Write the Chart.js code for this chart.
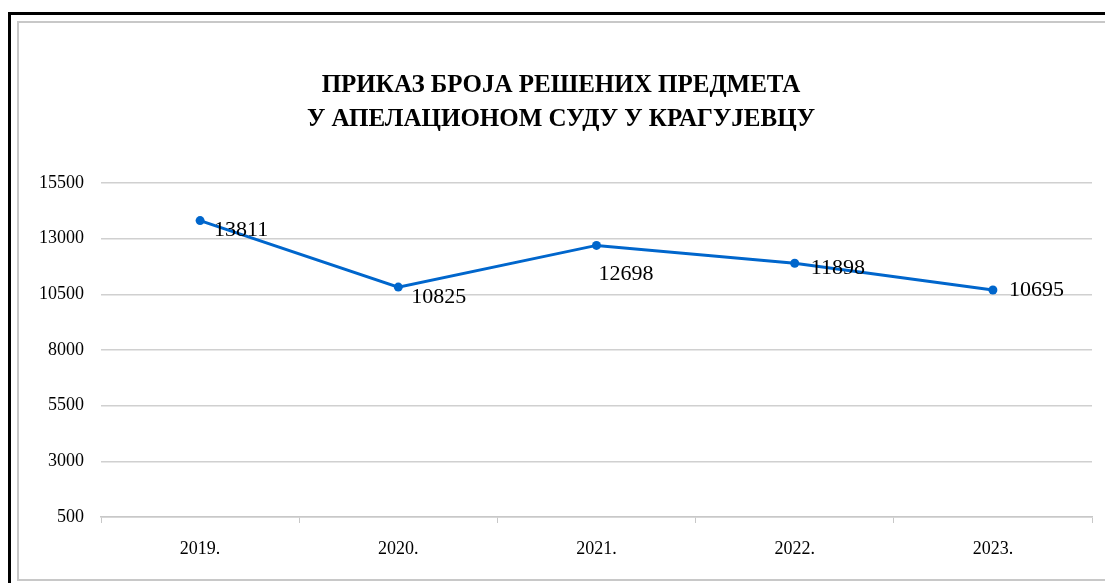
<!DOCTYPE html>
<html lang="sr">
<head>
    <meta charset="UTF-8">
    <script src="https://cdn.jsdelivr.net/npm/chart.js@4.4.0/dist/chart.umd.min.js"></script>
    <title>Решени предмети</title>
    <style>
        html, body { margin: 0; padding: 0; background: #fff; overflow: hidden; }
        .wrap { position: relative; width: 1105px; height: 583px; }
        canvas { position: absolute; left: 0; top: 0; }
        .frame-outer { position: absolute; left: 8px; top: 12px; width: 1200px; height: 700px; border: 3px solid #000; pointer-events: none; }
        .frame-inner { position: absolute; left: 17px; top: 21px; width: 1200px; height: 556px; border: 2px solid #c8c8c8; pointer-events: none; }
    </style>
</head>
<body>
<div class="wrap">
    <canvas id="myChart" width="1105" height="583"></canvas>
    <div class="frame-outer"></div>
    <div class="frame-inner"></div>
</div>

<script>
    // data
    const years = ['2019.', '2020.', '2021.', '2022.', '2023.'];
    const solved = [13811, 10825, 12698, 11898, 10695];
    const titleLines = ['ПРИКАЗ БРОЈА РЕШЕНИХ ПРЕДМЕТА', 'У АПЕЛАЦИОНОМ СУДУ У КРАГУЈЕВЦУ'];
    const yMin = 500, yMax = 15500, yStep = 2500;

    const serif = "'Liberation Serif', 'Times New Roman', serif";

    // value labels next to each point (offsets as placed in the original)
    const labelOffsets = [[14, 10], [13, 10], [2, 29], [16, 5], [16, 0]];
    const valueLabels = {
        id: 'valueLabels',
        afterDatasetsDraw(chart) {
            const ctx = chart.ctx;
            const meta = chart.getDatasetMeta(0);
            ctx.save();
            ctx.font = '22px ' + serif;
            ctx.fillStyle = '#000';
            ctx.textAlign = 'left';
            ctx.textBaseline = 'middle';
            meta.data.forEach((pt, i) => {
                const off = labelOffsets[i];
                ctx.fillText(String(solved[i]), pt.x + off[0], pt.y + off[1]);
            });
            ctx.restore();
        }
    };

    const ctx = document.getElementById('myChart').getContext('2d');
    const myChart = new Chart(ctx, {
        type: 'line',
        data: {
            labels: years,
            datasets: [{
                data: solved,
                borderColor: '#0066cc',
                backgroundColor: '#0066cc',
                borderWidth: 3,
                pointRadius: 4.5,
                pointBorderWidth: 0,
                tension: 0
            }]
        },
        options: {
            responsive: false,
            animation: false,
            layout: { padding: { left: 30, right: 13, top: 0, bottom: 0 } },
            plugins: {
                legend: { display: false },
                tooltip: { enabled: false },
                title: {
                    display: true,
                    text: titleLines,
                    color: '#000',
                    font: { family: serif, size: 25, weight: 'bold', lineHeight: 1.36 },
                    padding: { top: 69, bottom: 46 }
                }
            },
            scales: {
                x: {
                    offset: true,
                    grid: { offset: true, drawOnChartArea: false, drawTicks: true, tickLength: 6, color: '#c8c8c8' },
                    border: { color: '#c8c8c8', width: 1.5 },
                    ticks: { color: '#000', font: { family: serif, size: 18 }, padding: 15 },
                    afterFit(scale) { scale.height = 66; }
                },
                y: {
                    min: yMin,
                    max: yMax,
                    ticks: {
                        stepSize: yStep,
                        color: '#000',
                        font: { family: serif, size: 18 },
                        padding: 17,
                        callback: v => String(v)
                    },
                    grid: { drawTicks: false, color: '#d0d0d0', lineWidth: 1.5 },
                    border: { display: false },
                    afterFit(scale) { scale.width = 71; }
                }
            }
        },
        plugins: [valueLabels]
    });
</script>
</body>
</html>
